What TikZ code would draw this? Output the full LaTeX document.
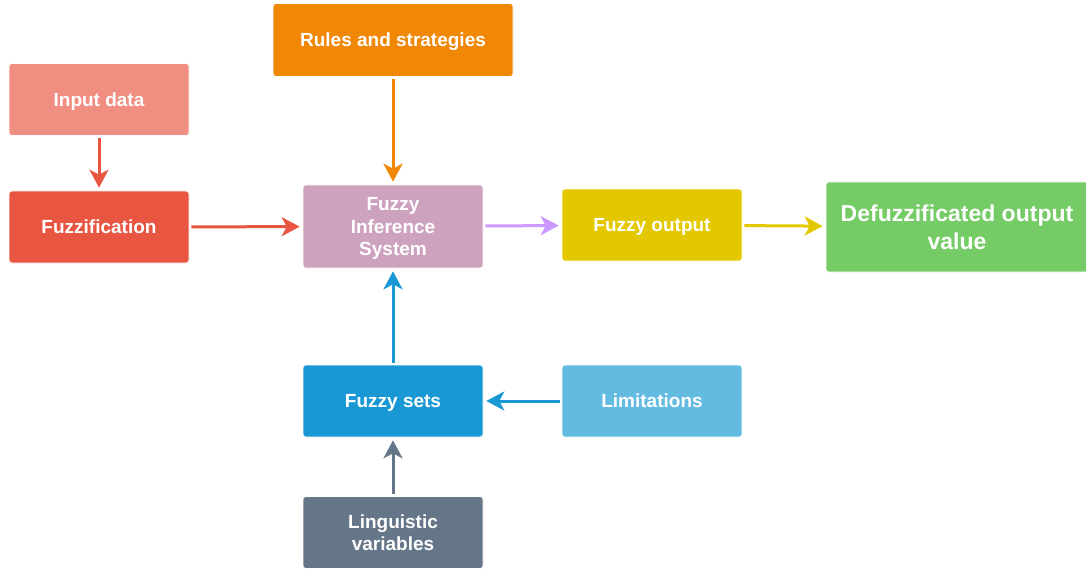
\documentclass[tikz,border=0pt]{standalone}
\usepackage{fontspec}
\setmainfont{Liberation Sans}
\usepackage{xcolor}
\usepackage{tikz}
\usetikzlibrary{arrows.meta}
\definecolor{cInput}{HTML}{F08E81}
\definecolor{cFuzz}{HTML}{E85642}
\definecolor{cRules}{HTML}{F08705}
\definecolor{cFis}{HTML}{CDA2BE}
\definecolor{cOut}{HTML}{E3C800}
\definecolor{cDefuzz}{HTML}{75CC66}
\definecolor{cSets}{HTML}{1A98D4}
\definecolor{cLimit}{HTML}{64BBE2}
\definecolor{cLing}{HTML}{647687}
\definecolor{cViolet}{HTML}{CC99FF}
\tikzstyle{box}=[draw=white, line width=.6pt, rectangle, rounded corners=3pt, text=white, align=center, inner sep=0pt, text depth=0pt, minimum width=180pt, minimum height=72pt, font=\bfseries\fontsize{19}{22.5}\selectfont]
\tikzstyle{arr}=[line width=3pt, -{Stealth[length=18pt,width=19pt,inset=5pt]}, shorten >=3pt, shorten <=2pt]

\begin{document}
\begin{tikzpicture}[x=1pt,y=-1pt]
\useasboundingbox (0,0) rectangle (1086,572);
\node[box, fill=cInput] (inp) at (99,99.5) {Input data};
\node[box, fill=cFuzz] (fuzz) at (99,227) {Fuzzification};
\node[box, fill=cRules, minimum width=240pt, minimum height=73pt] (rules) at (393,40) {Rules and strategies};
\node[box, fill=cFis, minimum height=83pt] (fis) at (393,226.5) {Fuzzy\\Inference\\System};
\node[box, fill=cOut] (fout) at (652,225) {Fuzzy output};
\node[box, fill=cDefuzz, minimum width=262pt, minimum height=90pt, text depth=, font=\bfseries\fontsize{23}{28}\selectfont] (defuzz) at (957,227) {Defuzzificated output\\value};
\node[box, fill=cSets] (fsets) at (393,401) {Fuzzy sets};
\node[box, fill=cLimit] (limit) at (652,401) {Limitations};
\node[box, fill=cLing] (ling) at (393,532.5) {Linguistic\\variables};
\foreach \f/\t/\c in {inp/fuzz/cFuzz, fuzz/fis/cFuzz, rules/fis/cRules, fis/fout/cViolet, fout/defuzz/cOut, fsets/fis/cSets, limit/fsets/cSets, ling/fsets/cLing}
  \draw[arr, draw=\c, fill=\c] (\f) -- (\t);
\end{tikzpicture}
\end{document}
